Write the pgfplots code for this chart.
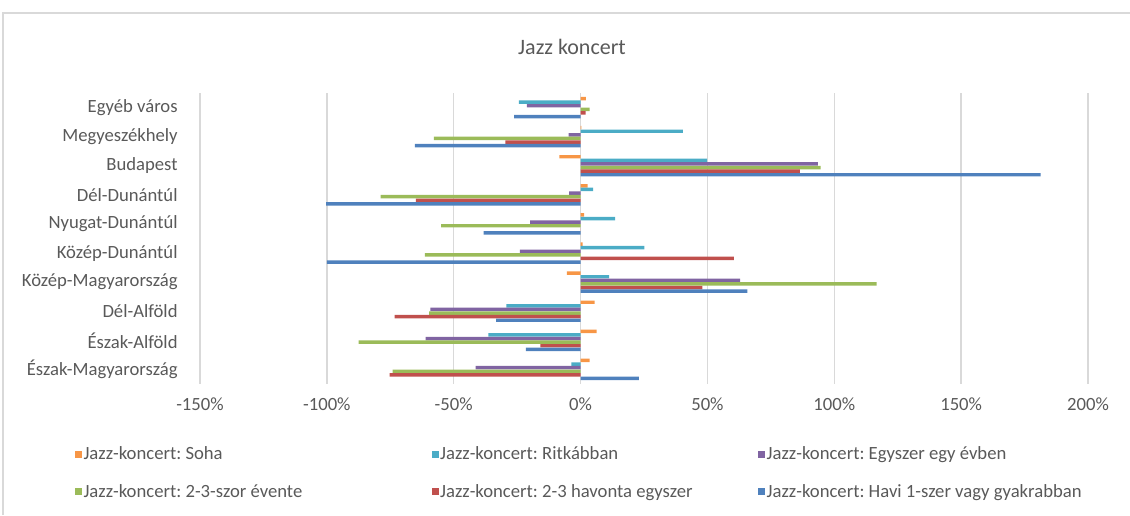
\documentclass[border=0pt]{standalone}
\usepackage{pgfplots}
\pgfplotsset{compat=1.18}
\usepackage{fontspec}
\setmainfont{Carlito}
\definecolor{txt}{HTML}{595959}
\definecolor{gridc}{HTML}{D9D9D9}
\definecolor{cSoha}{HTML}{F79646}
\definecolor{cRitk}{HTML}{4BACC6}
\definecolor{cEgy}{HTML}{8064A2}
\definecolor{cSzor}{HTML}{9BBB59}
\definecolor{cHav}{HTML}{C0504D}
\definecolor{cHavi}{HTML}{4F81BD}
\begin{document}
\frenchspacing
\begin{tikzpicture}
\useasboundingbox (0,0) rectangle (847.5pt,386.25pt);
\draw[gridc, line width=1pt] (2.25pt,0) -- (2.25pt,376.5pt) -- (847.5pt,376.5pt);
\node[text=txt, font=\fontsize{16.5}{19}\selectfont] at (429pt,351pt) {Jazz koncert};
\begin{axis}[
  at={(150pt,98.25pt)}, anchor=south west,
  scale only axis, width=666pt, height=218.25pt,
  xbar, bar width=2.6pt,
  xmin=-150, xmax=200,
  ymin=-0.5, ymax=9.5, y dir=reverse,
  xtick={-150,-100,-50,0,50,100,150,200},
  xticklabels={-150\%,-100\%,-50\%,0\%,50\%,100\%,150\%,200\%},
  ytick={0,...,9},
  yticklabels={Egyéb város, Megyeszékhely, Budapest, Dél-Dunántúl, Nyugat-Dunántúl, Közép-Dunántúl, Közép-Magyarország, Dél-Alföld, Észak-Alföld, Észak-Magyarország},
  xmajorgrids, major grid style={gridc, line width=1pt},
  axis line style={draw=none}, tick style={draw=none},
  ticklabel style={text=txt, font=\fontsize{14}{16}\selectfont},
  yticklabel style={xshift=-9pt},
  xticklabel style={yshift=-7pt},
  legend columns=3,
  legend cell align=left,
  legend image code/.code={\fill[#1] (0pt,-2.6pt) rectangle (5.2pt,2.6pt);},
  legend style={draw=none, fill=none, inner sep=0pt, anchor=west, at={(-0.1408,-0.306)},
    font=\fontsize{14}{16}\selectfont, text=txt, row sep=13pt,
    nodes={inner xsep=1pt}},
  every axis plot/.append style={draw=none},
]
\addplot[fill=cSoha, bar shift=6.75pt] coordinates {(2.1,0) (0.3,1) (-8.4,2) (2.8,3) (1.4,4) (0.8,5) (-5.4,6) (5.5,7) (6.3,8) (3.6,9)};
\addlegendentry{\makebox[260.25pt][l]{Jazz-koncert: Soha}}
\addplot[fill=cRitk, bar shift=4.05pt] coordinates {(-24.3,0) (40.3,1) (49.9,2) (4.9,3) (13.6,4) (25.1,5) (11.3,6) (-29.2,7) (-36.3,8) (-3.6,9)};
\addlegendentry{\makebox[237.75pt][l]{Jazz-koncert: Ritkábban}}
\addplot[fill=cEgy, bar shift=1.35pt] coordinates {(-21.2,0) (-4.7,1) (93.5,2) (-4.5,3) (-19.9,4) (-23.9,5) (62.9,6) (-59.2,7) (-61.1,8) (-41.4,9)};
\addlegendentry{Jazz-koncert: Egyszer egy évben}
\addplot[fill=cSzor, bar shift=-1.35pt] coordinates {(3.6,0) (-57.8,1) (94.6,2) (-78.8,3) (-55.0,4) (-61.4,5) (116.7,6) (-59.7,7) (-87.5,8) (-74.1,9)};
\addlegendentry{\makebox[260.25pt][l]{Jazz-koncert: 2-3-szor évente}}
\addplot[fill=cHav, bar shift=-4.05pt] coordinates {(2.0,0) (-29.6,1) (86.4,2) (-64.9,3) (0,4) (60.4,5) (48.0,6) (-73.3,7) (-15.8,8) (-75.3,9)};
\addlegendentry{\makebox[237.75pt][l]{Jazz-koncert: 2-3 havonta egyszer}}
\addplot[fill=cHavi, bar shift=-6.75pt] coordinates {(-26.2,0) (-65.3,1) (181.3,2) (-100.3,3) (-38.2,4) (-100,5) (65.7,6) (-33.3,7) (-21.6,8) (23.0,9)};
\addlegendentry{Jazz-koncert: Havi 1-szer vagy gyakrabban}
\end{axis}
\end{tikzpicture}
\end{document}
